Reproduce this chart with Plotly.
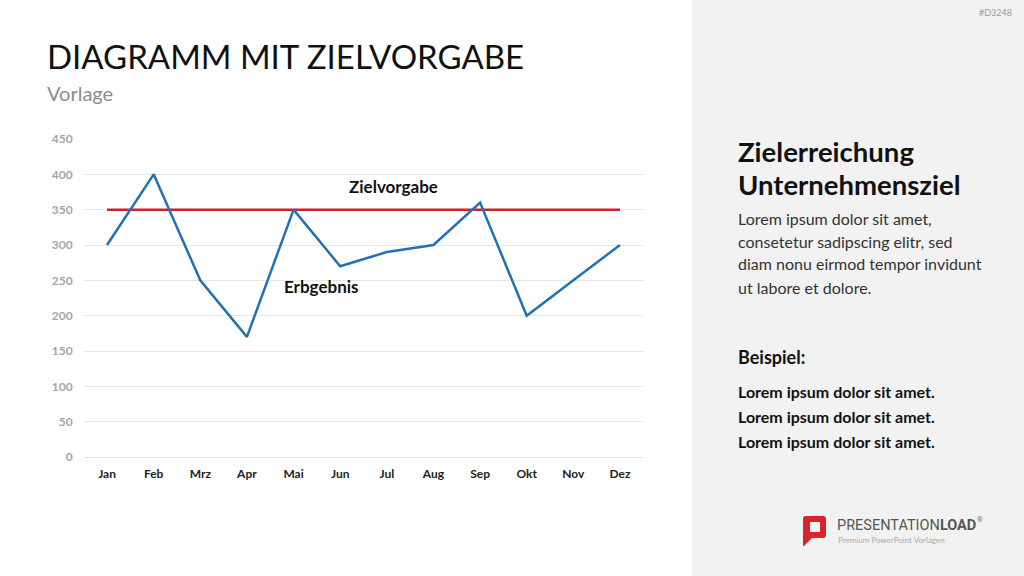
import plotly.graph_objects as go

months = ["Jan", "Feb", "Mrz", "Apr", "Mai", "Jun", "Jul", "Aug", "Sep", "Okt", "Nov", "Dez"]
ergebnis = [300, 400, 250, 170, 350, 270, 290, 300, 360, 200, 250, 300]
zielvorgabe = [350] * 12
y_ticks = [0, 50, 100, 150, 200, 250, 300, 350, 400, 450]

W, H = 1024, 576
FONT = "Lato"


def px(x):
    return x / W


def py(y):
    return 1 - y / H


fig = go.Figure()
fig.add_trace(go.Scatter(x=months, y=zielvorgabe, mode="lines",
                         line=dict(color="#D0202E", width=2.5), hoverinfo="skip"))
fig.add_trace(go.Scatter(x=months, y=ergebnis, mode="lines",
                         line=dict(color="#2271B3", width=2.5)))

shapes = [
    dict(type="rect", xref="paper", yref="paper", x0=px(692), x1=1, y0=0, y1=1,
         fillcolor="#F2F2F2", line=dict(width=0), layer="below"),
    # logo icon
    dict(type="path", xref="paper", yref="paper",
         path=f"M {px(806)} {py(516)} L {px(823)} {py(516)} Q {px(826)} {py(516)} {px(826)} {py(519)} "
              f"L {px(826)} {py(535)} Q {px(826)} {py(538)} {px(823)} {py(538)} L {px(812)} {py(538)} "
              f"L {px(804)} {py(546)} L {px(803)} {py(546)} L {px(803)} {py(519)} Q {px(803)} {py(516)} {px(806)} {py(516)} Z",
         fillcolor="#D9232E", line=dict(width=0)),
    dict(type="rect", xref="paper", yref="paper", x0=px(810), x1=px(820), y0=py(532), y1=py(522),
         fillcolor="#F2F2F2", line=dict(width=0)),
]

annotations = [
    dict(text="DIAGRAMM MIT ZIELVORGABE", x=px(45), y=py(56), xanchor="left", yanchor="middle",
         font=dict(family=FONT, size=33, color="#111111")),
    dict(text="Vorlage", x=px(45), y=py(93), xanchor="left", yanchor="middle",
         font=dict(family=FONT, size=20, color="#8C8C8C")),
    dict(text="<b>Zielvorgabe</b>", x=px(393), y=py(186), xanchor="center", yanchor="middle",
         font=dict(family=FONT, size=17, color="#111111")),
    dict(text="<b>Erbgebnis</b>", x=px(321), y=py(286), xanchor="center", yanchor="middle",
         font=dict(family=FONT, size=17, color="#111111")),
    dict(text="<b>Zielerreichung</b>", x=px(736), y=py(152), xanchor="left", yanchor="middle",
         font=dict(family=FONT, size=27.5, color="#111111")),
    dict(text="<b>Unternehmensziel</b>", x=px(736), y=py(184), xanchor="left", yanchor="middle",
         font=dict(family=FONT, size=27.5, color="#111111")),
    dict(text="#D3248", x=px(1014), y=py(12), xanchor="right", yanchor="middle",
         font=dict(family=FONT, size=9, color="#999999")),
    dict(text="<b>Beispiel:</b>", x=px(736), y=py(357), xanchor="left", yanchor="middle",
         font=dict(family=FONT, size=18, color="#111111")),
    dict(text="PRESENTATION<b>LOAD</b>", x=px(835), y=py(525), xanchor="left", yanchor="middle",
         font=dict(family="Roboto", size=14.5, color="#555555")),
    dict(text="®", x=px(980), y=py(520), xanchor="center", yanchor="middle",
         font=dict(family="Roboto", size=7, color="#777777")),
    dict(text="Premium PowerPoint Vorlagen", x=px(836), y=py(540), xanchor="left", yanchor="middle",
         font=dict(family=FONT, size=8, color="#AAAAAA")),
]

body_lines = ["Lorem ipsum dolor sit amet,", "consetetur sadipscing elitr, sed",
              "diam nonu eirmod tempor invidunt", "ut labore et dolore."]
for i, t in enumerate(body_lines):
    annotations.append(dict(text=t, x=px(736), y=py(218 + 23 * i), xanchor="left", yanchor="middle",
                            font=dict(family=FONT, size=16, color="#333333")))
for i in range(3):
    annotations.append(dict(text="<b>Lorem ipsum dolor sit amet.</b>", x=px(736), y=py(391 + 25 * i),
                            xanchor="left", yanchor="middle",
                            font=dict(family=FONT, size=16, color="#111111")))

for a in annotations:
    a.update(xref="paper", yref="paper", showarrow=False)

fig.update_layout(
    template="none",
    width=W, height=H, margin=dict(l=0, r=0, t=0, b=0, pad=0, autoexpand=False), autosize=False,
    paper_bgcolor="white", plot_bgcolor="white", showlegend=False,
    shapes=shapes, annotations=annotations,
    xaxis=dict(domain=[px(83.7), px(643.3)], range=[-0.5, 11.5], type="category",
               showgrid=False, zeroline=False, showline=False, ticks="", automargin=False,
               tickfont=dict(family=FONT, size=12, color="#222222", weight="bold"),
               ticklabelstandoff=8, fixedrange=True),
    yaxis=dict(domain=[py(457), py(139)], range=[0, 450], tickvals=y_ticks, automargin=False,
               showgrid=True, gridcolor="#E6E6E6", gridwidth=1, zeroline=True,
               zerolinecolor="#E0E0E0", zerolinewidth=1, showline=False, ticks="",
               tickfont=dict(family=FONT, size=12, color="#A6A6A6", weight="bold"),
               ticklabelstandoff=10, fixedrange=True),
)

post = (
    "document.documentElement.style.margin='0';document.body.style.margin='0';"
    "document.body.style.padding='0';document.body.style.overflow='hidden';"
)
fig.write_html("out.html", post_script=post, config={"displayModeBar": False})
